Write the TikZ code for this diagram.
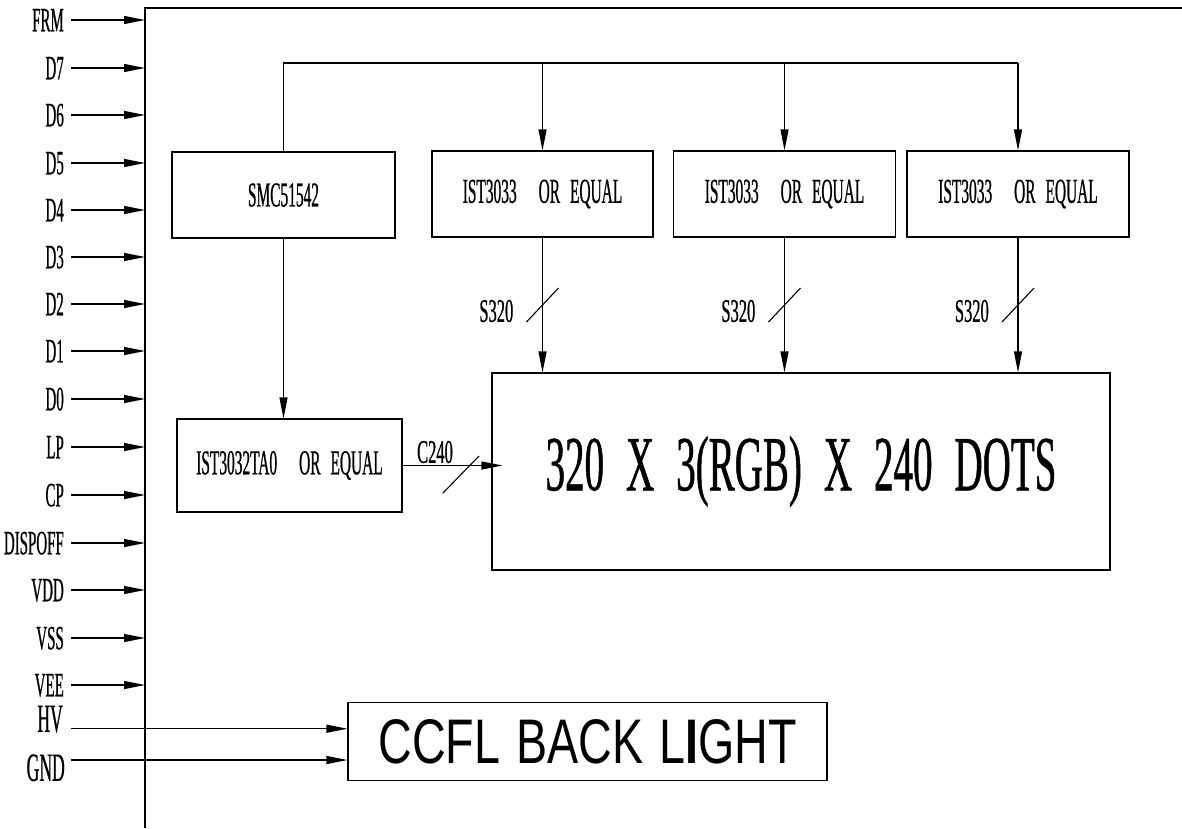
\documentclass[tikz,border=0pt]{standalone}
\usepackage{fontspec}
\usetikzlibrary{arrows.meta,calc}
\newfontfamily\cadfont[FakeStretch=0.44,FakeBold=0.6]{Liberation Serif}
\newfontfamily\cadwide[FakeStretch=0.5,FakeBold=0.6]{Liberation Serif}
\newfontfamily\ccflfont[FakeStretch=0.74]{Liberation Sans}
\newcommand\gp[1]{\hspace*{#1pt}}
\tikzset{
  wire/.style={line width=1.1pt,black},
  arr/.style={wire,-{Triangle[length=21pt,width=8pt]}},
  sig/.style={font=\cadfont\fontsize{34}{34}\selectfont,anchor=east,inner sep=0pt,text height=22.5pt,text depth=0pt},
  bigsig/.style={font=\cadfont\fontsize{40}{40}\selectfont,anchor=south east,inner sep=0pt,text height=26.5pt,text depth=0pt},
  blk/.style={draw,line width=1.1pt,rectangle,inner sep=0pt,font=\cadfont\fontsize{35}{35}\selectfont},
  lbl/.style={font=\cadwide\fontsize{33}{33}\selectfont,inner sep=0pt},
}
\begin{document}
\begin{tikzpicture}[x=1pt,y=-1pt]
\useasboundingbox (0,0) rectangle (1182,828);
% bus and top frame
\draw[wire] (145,828) -- (145,8) -- (1182,8);
% input signals
\foreach \n/\y in {FRM/20,D7/68,D6/115,D5/163,D4/210,D3/257,D2/304,D1/351,D0/399,LP/447,CP/495,DISPOFF/543,VDD/590,VSS/638,VEE/685}{
  \node[sig] (l\n) at (64,\y) {\n};
  \coordinate (s\n) at (71,\y);
  \coordinate (b\n) at (145,\y);
  \draw[arr] (s\n) -- (b\n);
}
% blocks
\node[blk,minimum width=223pt,minimum height=86pt] (smc) at (283.5,195) {SMC51542};
\node[blk,minimum width=221pt,minimum height=86pt] (ista) at (542.5,194) {IST3033\gp{22}OR\gp{10}EQUAL};
\node[blk,minimum width=222pt,minimum height=86pt] (istb) at (784.5,194) {IST3033\gp{22}OR\gp{10}EQUAL};
\node[blk,minimum width=222pt,minimum height=86pt] (istc) at (1018,194) {IST3033\gp{22}OR\gp{10}EQUAL};
\node[blk,minimum width=225pt,minimum height=93pt] (gate) at (289.5,465.5) {IST3032TA0\gp{22}OR\gp{10}EQUAL};
\node[blk,minimum width=618pt,minimum height=197pt,font=\cadwide\fontsize{78}{78}\selectfont] (dots) at (801,471.5)
  {320\gp{22}X\gp{22}3(RGB)\gp{22}X\gp{22}240\gp{22}DOTS};
\node[blk,minimum width=479pt,minimum height=78pt,font=\ccflfont\fontsize{63}{63}\selectfont] (ccfl) at (587.5,741.7)
  {CCFL\gp{16}BACK\gp{16}L{\bfseries I}GHT};
% top distribution line
\coordinate (top) at (284,63);
\draw[wire] (smc.north) -- (smc.north |- top) -- (istc.north |- top);
\draw[arr] (istc.north |- top) -- (istc.north);
\draw[arr] (ista.north |- top) -- (ista.north);
\draw[arr] (istb.north |- top) -- (istb.north);
% SMC to gate driver
\draw[arr] (smc.south) -- (smc.south |- gate.north);
% source drivers to panel
\foreach \b in {ista,istb,istc}{
  \draw[arr] (\b.south) -- (\b.south |- dots.north);
  \coordinate (s\b) at ($(\b.south |- 0,305)$);
  \draw[wire] ($(s\b)+(-16,17)$) -- ($(s\b)+(16,-17)$);
  \node[lbl,anchor=east] (t\b) at ($(s\b)+(-29,6)$) {S320};
}
% gate driver to panel
\coordinate (cin) at ($(dots.west |- gate.east)+(11,0)$);
\draw[arr] (gate.east) -- (cin);
\coordinate (cs) at (461,474.5);
\draw[wire] ($(cs)+(-18,18.5)$) -- ($(cs)+(18,-18.5)$);
\node[lbl] (c240) at (435,452) {C240};
% backlight inputs
\node[bigsig] (lHV) at (63,732) {HV};
\node[bigsig] (lGND) at (65,781) {GND};
\coordinate (hvin) at (71,728.7);
\coordinate (gndin) at (71,760);
\draw[arr] (hvin) -- (ccfl.west |- hvin);
\draw[arr] (gndin) -- (ccfl.west |- gndin);
\end{tikzpicture}
\end{document}
